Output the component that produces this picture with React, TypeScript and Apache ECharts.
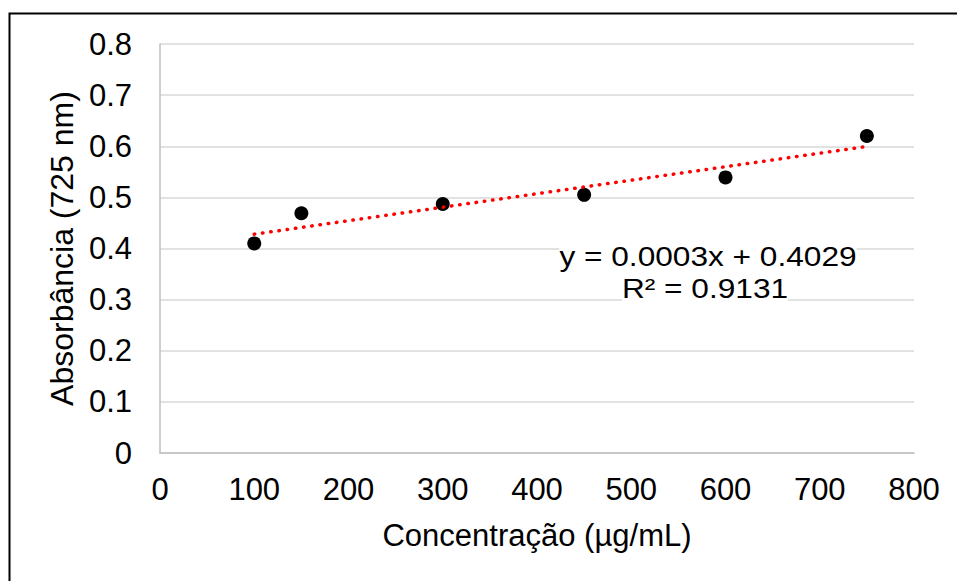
import React, { useEffect, useRef } from "react";
import * as echarts from "echarts";

const concentrations = [100, 150, 300, 450, 600, 750];
const absorbances = [0.41, 0.469, 0.487, 0.505, 0.539, 0.62];
const yTicks = [0, 0.1, 0.2, 0.3, 0.4, 0.5, 0.6, 0.7, 0.8];
const xTicks = [0, 100, 200, 300, 400, 500, 600, 700, 800];
const equationLines = ["y = 0.0003x + 0.4029", "R² = 0.9131"];
const xTitle = "Concentração (µg/mL)";
const yTitle = "Absorbância (725 nm)";

function leastSquares(xs: number[], ys: number[]) {
  const n = xs.length;
  const mx = xs.reduce((a, b) => a + b, 0) / n;
  const my = ys.reduce((a, b) => a + b, 0) / n;
  let sxy = 0;
  let sxx = 0;
  for (let i = 0; i < n; i++) {
    sxy += (xs[i] - mx) * (ys[i] - my);
    sxx += (xs[i] - mx) * (xs[i] - mx);
  }
  const slope = sxy / sxx;
  return { slope, intercept: my - slope * mx };
}

export default function App() {
  const ref = useRef<HTMLDivElement>(null);
  useEffect(() => {
    if (!ref.current) return;
    const chart = echarts.init(ref.current, null, { renderer: "svg" });
    const fit = leastSquares(concentrations, absorbances);
    const x0 = concentrations[0];
    const x1 = concentrations[concentrations.length - 1];
    const trend = [
      [x0, fit.slope * x0 + fit.intercept],
      [x1, fit.slope * x1 + fit.intercept],
    ];
    const font = "'Liberation Sans', Arial, sans-serif";
    const eqStyle = {
      fontSize: 28,
      fontFamily: font,
      fill: "#000",
      align: "center",
      verticalAlign: "middle",
      backgroundColor: "#ffffff",
      padding: [0, 0],
    };
    chart.setOption({
      animation: false,
      backgroundColor: "#ffffff",
      textStyle: { fontFamily: font },
      grid: { left: 160, right: 43, top: 44, bottom: 128, containLabel: false },
      xAxis: {
        type: "value",
        min: xTicks[0],
        max: xTicks[xTicks.length - 1],
        interval: 100,
        name: xTitle,
        nameLocation: "middle",
        nameGap: 67,
        nameTextStyle: { fontSize: 31, color: "#000", fontFamily: font },
        axisLine: { show: true, lineStyle: { color: "#bfbfbf", width: 1.5 } },
        axisTick: { show: false },
        axisLabel: { fontSize: 31, color: "#000", margin: 21, fontFamily: font },
        splitLine: { show: false },
      },
      yAxis: {
        type: "value",
        min: yTicks[0],
        max: yTicks[yTicks.length - 1],
        interval: 0.1,
        name: yTitle,
        nameLocation: "middle",
        nameGap: 82,
        nameRotate: 90,
        nameTextStyle: { fontSize: 32, color: "#000", fontFamily: font },
        axisLine: { show: true, lineStyle: { color: "#bfbfbf", width: 1.5 } },
        axisTick: { show: false },
        axisLabel: {
          fontSize: 31,
          color: "#000",
          margin: 28,
          fontFamily: font,
          formatter: (v: number) => String(Math.round(v * 10) / 10),
        },
        splitLine: { show: true, lineStyle: { color: "#d9d9d9", width: 1.5 } },
      },
      series: [
        {
          type: "line",
          data: trend,
          showSymbol: false,
          symbol: "none",
          lineStyle: { color: "#ff0000", width: 3.5, type: [0.5, 7.8], cap: "round" },
          z: 3,
        },
        {
          type: "scatter",
          data: concentrations.map((c, i) => [c, absorbances[i]]),
          symbol: "circle",
          symbolSize: 14,
          itemStyle: { color: "#000000", opacity: 1 },
          z: 2,
        },
      ],
      graphic: [
        {
          type: "rect",
          shape: { x: 9.5, y: 13.5, width: 1200, height: 1200 },
          style: { fill: "none", stroke: "#000", lineWidth: 2 },
          silent: true,
        },
        {
          type: "text",
          x: 708,
          y: 256,
          scaleX: 1.13,
          z: 10,
          style: { ...eqStyle, text: equationLines[0] },
        },
        {
          type: "text",
          x: 705,
          y: 288,
          scaleX: 1.13,
          z: 10,
          style: { ...eqStyle, text: equationLines[1] },
        },
      ],
    });
    return () => chart.dispose();
  }, []);
  return (
    <div
      ref={ref}
      style={{ position: "fixed", left: 0, top: 0, width: 957, height: 581 }}
    />
  );
}
